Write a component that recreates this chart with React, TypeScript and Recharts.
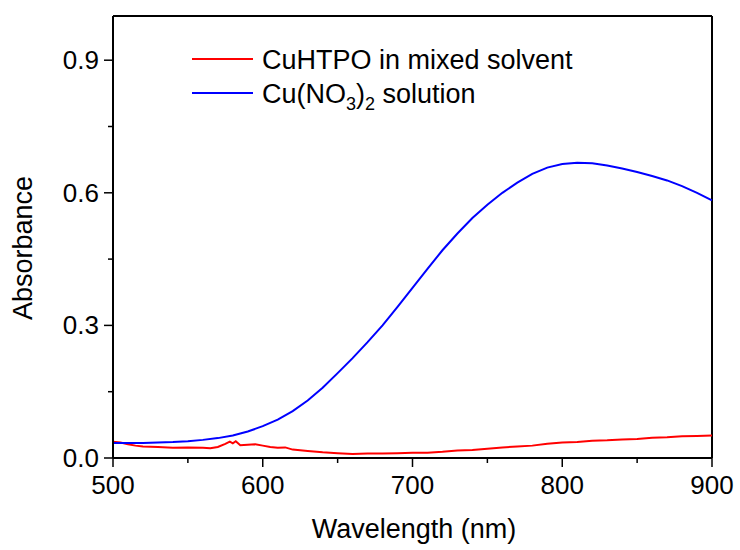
import { LineChart, Line, XAxis, YAxis, ReferenceLine } from 'recharts';

// wavelength (nm) / absorbance
const blueWl = [500, 510, 520, 530, 540, 550, 560, 570, 580, 590, 600, 610, 620, 630, 640, 650, 660, 670, 680, 690, 700, 710, 720, 730, 740, 750, 760, 770, 780, 790, 800, 810, 820, 830, 840, 850, 860, 870, 880, 890, 900];
const blueAbs = [0.034, 0.034, 0.034, 0.035, 0.036, 0.038, 0.041, 0.045, 0.051, 0.06, 0.072, 0.087, 0.106, 0.13, 0.159, 0.192, 0.226, 0.262, 0.3, 0.342, 0.385, 0.428, 0.47, 0.508, 0.543, 0.573, 0.6, 0.623, 0.643, 0.657, 0.665, 0.668, 0.667, 0.662, 0.655, 0.647, 0.638, 0.628, 0.615, 0.6, 0.583];

const redWl = [500, 505, 510, 515, 520, 530, 540, 550, 560, 565, 570, 575, 578, 580, 582, 585, 590, 595, 600, 605, 610, 615, 620, 630, 640, 650, 660, 670, 680, 690, 700, 710, 720, 730, 740, 750, 760, 770, 780, 790, 800, 810, 820, 830, 840, 850, 860, 870, 880, 890, 900];
const redAbs = [0.037, 0.035, 0.031, 0.028, 0.026, 0.025, 0.023, 0.024, 0.023, 0.022, 0.025, 0.032, 0.037, 0.033, 0.038, 0.029, 0.03, 0.031, 0.028, 0.025, 0.023, 0.024, 0.019, 0.016, 0.013, 0.011, 0.009, 0.01, 0.01, 0.011, 0.012, 0.012, 0.014, 0.017, 0.018, 0.021, 0.024, 0.026, 0.028, 0.032, 0.035, 0.036, 0.039, 0.04, 0.042, 0.043, 0.046, 0.047, 0.049, 0.05, 0.051];

const xTicks = [500, 550, 600, 650, 700, 750, 800, 850, 900];
const yTicks = [0, 0.15, 0.3, 0.45, 0.6, 0.75, 0.9];
const yMajorLabels: Record<string, string> = { '0': '0.0', '0.3': '0.3', '0.6': '0.6', '0.9': '0.9' };

const blueData = blueWl.map((wl, i) => ({ wl, abs: blueAbs[i] }));
const redData = redWl.map((wl, i) => ({ wl, abs: redAbs[i] }));

const FONT = '"Liberation Sans", Arial, sans-serif';

const XTick = (props: any) => {
    const { x, y, payload } = props;
    const major = payload.value % 100 === 0;
    return (
        <g>
            <line x1={x} x2={x} y1={y} y2={y + (major ? 9 : 5)} stroke="#000" strokeWidth={1.5} />
            {major && (
                <text x={x} y={y + 36} textAnchor="middle" fontSize={26} fontFamily={FONT} fill="#000">
                    {payload.value}
                </text>
            )}
        </g>
    );
};

const YTick = (props: any) => {
    const { x, y, payload } = props;
    const label = yMajorLabels[String(payload.value)];
    return (
        <g>
            <line x1={x - (label ? 9 : 5)} x2={x} y1={y} y2={y} stroke="#000" strokeWidth={1.5} />
            {label && (
                <text x={x - 14} y={y + 9} textAnchor="end" fontSize={26} fontFamily={FONT} fill="#000">
                    {label}
                </text>
            )}
        </g>
    );
};

export default function App() {
    return (
        <div style={{ position: 'absolute', left: 0, top: 0, width: 740, height: 550, background: '#fff' }}>
            <LineChart width={740} height={550} margin={{ top: 16, right: 28, bottom: 32, left: 0 }}>
                <XAxis
                    dataKey="wl"
                    type="number"
                    domain={[500, 900]}
                    ticks={xTicks}
                    interval={0}
                    height={60}
                    tickSize={0}
                    tickMargin={0}
                    tickLine={false}
                    tick={<XTick />}
                    axisLine={{ stroke: '#000', strokeWidth: 2 }}
                    allowDuplicatedCategory={false}
                />
                <YAxis
                    type="number"
                    domain={[0, 1]}
                    ticks={yTicks}
                    interval={0}
                    width={113}
                    tickSize={0}
                    tickMargin={0}
                    tickLine={false}
                    tick={<YTick />}
                    axisLine={{ stroke: '#000', strokeWidth: 2 }}
                />
                <ReferenceLine x={900} stroke="#000" strokeWidth={2} />
                <ReferenceLine y={1} stroke="#000" strokeWidth={2} />
                <Line data={redData} dataKey="abs" type="linear" stroke="#ff0000" strokeWidth={2} dot={false} isAnimationActive={false} />
                <Line data={blueData} dataKey="abs" type="linear" stroke="#0000ff" strokeWidth={2} dot={false} isAnimationActive={false} />
            </LineChart>
            <svg width={740} height={550} style={{ position: 'absolute', left: 0, top: 0, pointerEvents: 'none' }}>
                <g fontFamily={FONT} fill="#000">
                    <line x1={192} x2={253} y1={59} y2={59} stroke="#ff0000" strokeWidth={2} />
                    <text x={262} y={69} fontSize={27}>CuHTPO in mixed solvent</text>
                    <line x1={192} x2={253} y1={93} y2={93} stroke="#0000ff" strokeWidth={2} />
                    <text x={262} y={103} fontSize={27}>
                        Cu(NO<tspan fontSize={18} dy={7}>3</tspan>
                        <tspan dy={-7}>)</tspan>
                        <tspan fontSize={18} dy={7}>2</tspan>
                        <tspan dy={-7}> solution</tspan>
                    </text>
                    <text x={414} y={538} fontSize={27} textAnchor="middle">Wavelength (nm)</text>
                    <text x={32} y={248} fontSize={27} textAnchor="middle" transform="rotate(-90, 32, 248)">Absorbance</text>
                </g>
            </svg>
        </div>
    );
}
